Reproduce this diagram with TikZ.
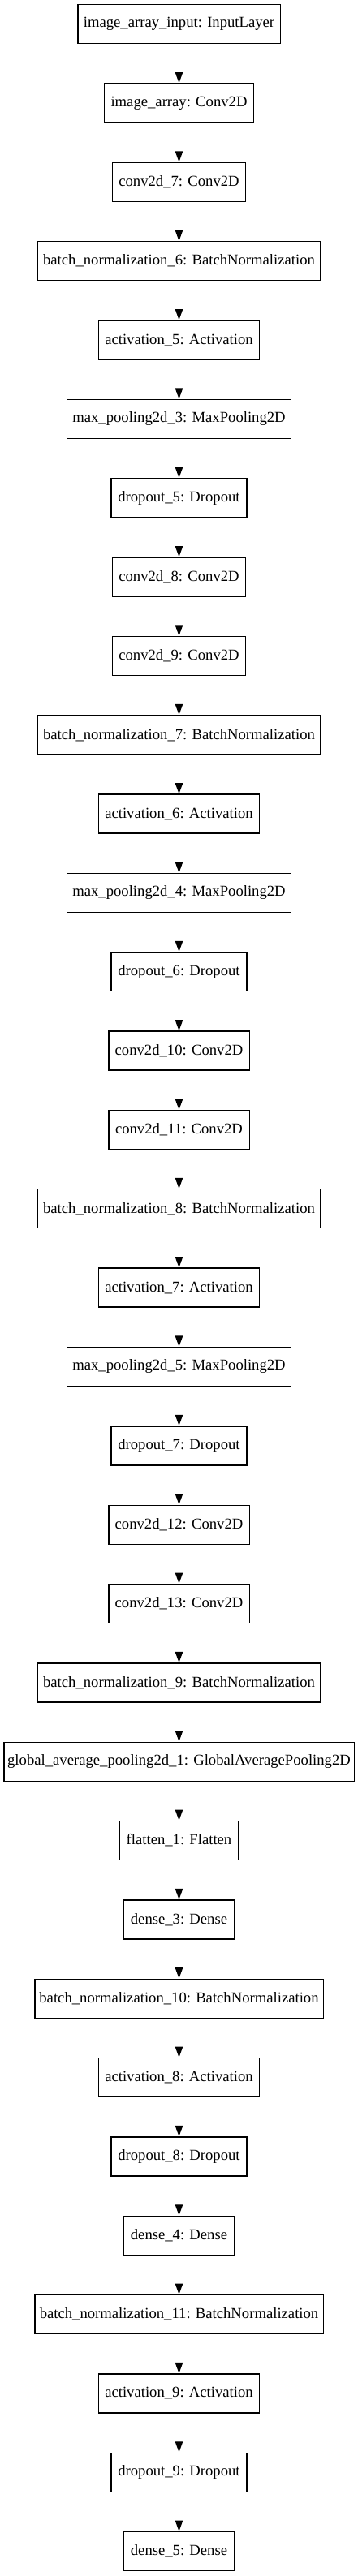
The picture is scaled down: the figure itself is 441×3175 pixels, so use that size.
\documentclass[tikz,border=0pt]{standalone}
\usepackage{fontspec}
\setmainfont{Liberation Serif}
\usetikzlibrary{arrows.meta}
\begin{document}
\begin{tikzpicture}[x=0.75pt,y=-0.75pt,
  layer/.style={draw=black,line width=1pt,rectangle,inner sep=0pt,minimum height=36pt,font=\fontsize{14pt}{16pt}\selectfont,text=black},
  flow/.style={draw=black,line width=1pt,-{Triangle[length=10pt,width=7pt]}}]
\useasboundingbox (0,0) rectangle (441,3175);
\foreach \i/\w/\t in {
0/187/{image\_array\_input: InputLayer},
1/138.2/{image\_array: Conv2D},
2/123.2/{conv2d\_7: Conv2D},
3/260.8/{batch\_normalization\_6: BatchNormalization},
4/148.3/{activation\_5: Activation},
5/207.2/{max\_pooling2d\_3: MaxPooling2D},
6/125.3/{dropout\_5: Dropout},
7/123.2/{conv2d\_8: Conv2D},
8/123.2/{conv2d\_9: Conv2D},
9/260.8/{batch\_normalization\_7: BatchNormalization},
10/148.3/{activation\_6: Activation},
11/207.2/{max\_pooling2d\_4: MaxPooling2D},
12/125.3/{dropout\_6: Dropout},
13/130/{conv2d\_10: Conv2D},
14/130/{conv2d\_11: Conv2D},
15/260.8/{batch\_normalization\_8: BatchNormalization},
16/148.3/{activation\_7: Activation},
17/207.2/{max\_pooling2d\_5: MaxPooling2D},
18/125.3/{dropout\_7: Dropout},
19/130/{conv2d\_12: Conv2D},
20/130/{conv2d\_13: Conv2D},
21/260.8/{batch\_normalization\_9: BatchNormalization},
22/323.5/{global\_average\_pooling2d\_1: GlobalAveragePooling2D},
23/110.3/{flatten\_1: Flatten},
24/102.2/{dense\_3: Dense},
25/266.5/{batch\_normalization\_10: BatchNormalization},
26/148.3/{activation\_8: Activation},
27/125.3/{dropout\_8: Dropout},
28/102.2/{dense\_4: Dense},
29/266.5/{batch\_normalization\_11: BatchNormalization},
30/148.3/{activation\_9: Activation},
31/125.3/{dropout\_9: Dropout},
32/102.2/{dense\_5: Dense}}
{
  \node[layer,minimum width=\w pt] (n\i) at (220.5,{29.7+97.34*\i}) {\t};
}
\foreach \i [evaluate=\i as \j using int(\i+1)] in {0,...,31}
{
  \draw[flow] (n\i.south) -- (n\j.north);
}
\end{tikzpicture}
\end{document}
